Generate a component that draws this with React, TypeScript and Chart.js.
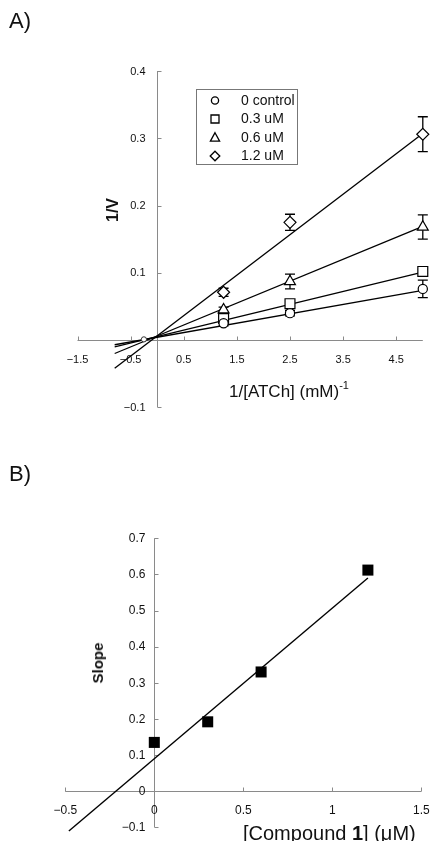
import React, { useEffect, useRef } from 'react';
import { Chart, registerables } from 'chart.js';

Chart.register(...registerables);

const FONT_FAMILY = '"Liberation Sans", Arial, Helvetica, sans-serif';
const AXIS_COLOR = '#8a8a8a';
const INK = '#111111';

// ---------- Panel A: Lineweaver-Burk data ----------
const invATCh = [1.25, 2.5, 5];
const seriesNames = ['0 control', '0.3 uM', '0.6 uM', '1.2 uM'];
const controlV = [0.025, 0.040, 0.076];
const inh03V = [0.032, 0.054, 0.102];
const inh06V = [0.045, 0.087, 0.168];
const inh12V = [0.071, 0.175, 0.306];
const controlErr = [0.004, 0.004, 0.013];
const inh03Err = [0.004, 0.004, 0.003];
const inh06Err = [0.004, 0.011, 0.018];
const inh12Err = [0.006, 0.012, 0.026];
const fitXA = [-0.8, 5];
const fitControl = [-0.007, 0.074];
const fitInh03 = [-0.010, 0.101];
const fitInh06 = [-0.020, 0.169];
const fitInh12 = [-0.042, 0.307];
const crossX = [-0.25];
const crossY = [0.001];
const xTickValuesA = [-1.5, -0.5, 0.5, 1.5, 2.5, 3.5, 4.5];
const xTickLabelsA = ['\u22121.5', '\u22120.5', '0.5', '1.5', '2.5', '3.5', '4.5'];
const yTickValuesA = [-0.1, 0.1, 0.2, 0.3, 0.4];
const yTickLabelsA = ['\u22120.1', '0.1', '0.2', '0.3', '0.4'];

// ---------- Panel B: slope replot data ----------
const compoundConc = [0, 0.3, 0.6, 1.2];
const slopeValues = [0.135, 0.192, 0.330, 0.612];
const fitXB = [-0.48, 1.2];
const fitYB = [-0.11, 0.59];
const xTickValuesB = [-0.5, 0, 0.5, 1, 1.5];
const xTickLabelsB = ['\u22120.5', '0', '0.5', '1', '1.5'];
const yTickValuesB = [-0.1, 0, 0.1, 0.2, 0.3, 0.4, 0.5, 0.6, 0.7];
const yTickLabelsB = ['\u22120.1', '0', '0.1', '0.2', '0.3', '0.4', '0.5', '0.6', '0.7'];

const seriesValues = [controlV, inh03V, inh06V, inh12V];
const seriesErrors = [controlErr, inh03Err, inh06Err, inh12Err];
const seriesFits = [fitControl, fitInh03, fitInh06, fitInh12];
const seriesStyles = ['circle', 'rect', 'triangle', 'rectRot'];
const seriesRadius = [4.6, 7, 6.3, 6];

const toPts = (xs: number[], ys: number[]) => xs.map((x, i) => ({ x, y: ys[i] }));

type AxisCfg = {
  xTicks: number[];
  xLabels: string[];
  yTicks: number[];
  yLabels: string[];
  size: number;
  xLabelOffset: number;
  yLabelGap: number;
};

// Cross-style axes through the origin, drawn from the chart's own scales.
function crossAxes(cfg: AxisCfg) {
  return {
    id: 'crossAxes',
    beforeDatasetsDraw(chart: any) {
      const { ctx, chartArea } = chart;
      const xs = chart.scales.x;
      const ys = chart.scales.y;
      const x0 = Math.round(xs.getPixelForValue(0)) + 0.5;
      const y0 = Math.round(ys.getPixelForValue(0)) + 0.5;
      ctx.save();
      ctx.strokeStyle = AXIS_COLOR;
      ctx.lineWidth = 1;
      ctx.beginPath();
      ctx.moveTo(chartArea.left, y0);
      ctx.lineTo(chartArea.right, y0);
      ctx.moveTo(x0, chartArea.top);
      ctx.lineTo(x0, chartArea.bottom);
      cfg.xTicks.forEach((v) => {
        const px = Math.round(xs.getPixelForValue(v)) + 0.5;
        ctx.moveTo(px, y0);
        ctx.lineTo(px, y0 - 4);
      });
      cfg.yTicks.forEach((v) => {
        const py = Math.round(ys.getPixelForValue(v)) + 0.5;
        ctx.moveTo(x0, py);
        ctx.lineTo(x0 + 4, py);
      });
      ctx.stroke();
      ctx.fillStyle = INK;
      ctx.font = `${cfg.size}px ${FONT_FAMILY}`;
      ctx.textBaseline = 'middle';
      ctx.textAlign = 'center';
      cfg.xTicks.forEach((v, i) => {
        ctx.fillText(cfg.xLabels[i], xs.getPixelForValue(v), y0 + cfg.xLabelOffset);
      });
      ctx.textAlign = 'right';
      cfg.yTicks.forEach((v, i) => {
        ctx.fillText(cfg.yLabels[i], x0 - cfg.yLabelGap, ys.getPixelForValue(v) + 0.5);
      });
      ctx.restore();
    },
  };
}

const errorBars = {
  id: 'errorBars',
  beforeDatasetsDraw(chart: any) {
    const { ctx } = chart;
    const xs = chart.scales.x;
    const ys = chart.scales.y;
    ctx.save();
    ctx.strokeStyle = '#000';
    ctx.lineWidth = 1.3;
    seriesValues.forEach((vals, s) => {
      invATCh.forEach((xv, i) => {
        const e = seriesErrors[s][i];
        if (!e) return;
        const px = xs.getPixelForValue(xv);
        const top = ys.getPixelForValue(vals[i] + e);
        const bot = ys.getPixelForValue(vals[i] - e);
        ctx.beginPath();
        ctx.moveTo(px, top);
        ctx.lineTo(px, bot);
        ctx.moveTo(px - 5, top);
        ctx.lineTo(px + 5, top);
        ctx.moveTo(px - 5, bot);
        ctx.lineTo(px + 5, bot);
        ctx.stroke();
      });
    });
    ctx.restore();
  },
};

function drawSymbol(ctx: CanvasRenderingContext2D, style: string, x: number, y: number) {
  ctx.beginPath();
  if (style === 'circle') {
    ctx.arc(x, y, 3.6, 0, Math.PI * 2);
  } else if (style === 'rect') {
    ctx.rect(x - 4, y - 4, 8, 8);
  } else if (style === 'triangle') {
    ctx.moveTo(x, y - 4.8);
    ctx.lineTo(x + 4.6, y + 3.6);
    ctx.lineTo(x - 4.6, y + 3.6);
    ctx.closePath();
  } else {
    ctx.moveTo(x, y - 4.8);
    ctx.lineTo(x + 4.8, y);
    ctx.lineTo(x, y + 4.8);
    ctx.lineTo(x - 4.8, y);
    ctx.closePath();
  }
  ctx.fillStyle = '#fff';
  ctx.fill();
  ctx.stroke();
}

const boxLegend = {
  id: 'boxLegend',
  afterDraw(chart: any) {
    const ctx = chart.ctx as CanvasRenderingContext2D;
    ctx.save();
    ctx.strokeStyle = '#777';
    ctx.lineWidth = 1;
    ctx.strokeRect(196.5, 89.5, 101, 75);
    ctx.strokeStyle = '#000';
    ctx.lineWidth = 1.3;
    seriesNames.forEach((name, i) => {
      const cy = 100.5 + i * 18.5;
      drawSymbol(ctx, seriesStyles[i], 215, cy);
      ctx.fillStyle = INK;
      ctx.font = `14px ${FONT_FAMILY}`;
      ctx.textBaseline = 'middle';
      ctx.textAlign = 'left';
      ctx.fillText(name, 241, cy + 0.5);
    });
    ctx.restore();
  },
};

const hiddenScale = (min: number, max: number) => ({ type: 'linear', min, max, display: false });

function PanelA() {
  const ref = useRef<HTMLCanvasElement>(null);
  useEffect(() => {
    const fitDatasets = seriesFits.map((fy) => ({
      data: toPts(fitXA, fy),
      showLine: true,
      borderColor: '#000',
      borderWidth: 1.3,
      pointRadius: 0,
      order: 3,
      clip: false,
    }));
    const pointDatasets = seriesValues.map((vals, s) => ({
      data: toPts(invATCh, vals),
      showLine: false,
      pointStyle: seriesStyles[s],
      pointRadius: seriesRadius[s],
      pointBackgroundColor: '#fff',
      pointBorderColor: '#000',
      pointBorderWidth: 1.2,
      order: 1,
      clip: false,
    }));
    const crossDataset = {
      data: toPts(crossX, crossY),
      showLine: false,
      pointStyle: 'circle',
      pointRadius: 2.6,
      pointBackgroundColor: '#fff',
      pointBorderColor: '#333',
      pointBorderWidth: 1,
      order: 2,
      clip: false,
    };
    const chart = new Chart(ref.current as HTMLCanvasElement, {
      type: 'scatter',
      data: { datasets: [...fitDatasets, crossDataset, ...pointDatasets] as any },
      options: {
        animation: false,
        responsive: false,
        devicePixelRatio: 1,
        events: [],
        layout: { padding: { left: 77.5, right: 5.8, top: 71, bottom: 12.7 } },
        plugins: { legend: { display: false }, tooltip: { enabled: false }, title: { display: false } },
        scales: {
          x: hiddenScale(-1.5, 5) as any,
          y: hiddenScale(-0.1, 0.4) as any,
        },
      },
      plugins: [
        crossAxes({
          xTicks: xTickValuesA,
          xLabels: xTickLabelsA,
          yTicks: yTickValuesA,
          yLabels: yTickLabelsA,
          size: 11,
          xLabelOffset: 19,
          yLabelGap: 12,
        }),
        errorBars,
        boxLegend,
      ],
    });
    return () => chart.destroy();
  }, []);
  return <canvas ref={ref} width={431} height={420} style={{ position: 'absolute', left: 0, top: 0, width: 431, height: 420 }} />;
}

function PanelB() {
  const ref = useRef<HTMLCanvasElement>(null);
  useEffect(() => {
    const chart = new Chart(ref.current as HTMLCanvasElement, {
      type: 'scatter',
      data: {
        datasets: [
          {
            data: toPts(fitXB, fitYB),
            showLine: true,
            borderColor: '#000',
            borderWidth: 1.4,
            pointRadius: 0,
            order: 2,
            clip: false,
          },
          {
            data: toPts(compoundConc, slopeValues),
            showLine: false,
            pointStyle: 'rect',
            pointRadius: 7.8,
            pointBackgroundColor: '#000',
            pointBorderColor: '#000',
            pointBorderWidth: 0,
            order: 1,
            clip: false,
          },
        ] as any,
      },
      options: {
        animation: false,
        responsive: false,
        devicePixelRatio: 1,
        events: [],
        layout: { padding: { left: 65.3, right: 9.7, top: 118.3, bottom: 13.7 } },
        plugins: { legend: { display: false }, tooltip: { enabled: false }, title: { display: false } },
        scales: {
          x: hiddenScale(-0.5, 1.5) as any,
          y: hiddenScale(-0.1, 0.7) as any,
        },
      },
      plugins: [
        crossAxes({
          xTicks: xTickValuesB,
          xLabels: xTickLabelsB,
          yTicks: yTickValuesB,
          yLabels: yTickLabelsB,
          size: 12,
          xLabelOffset: 19.5,
          yLabelGap: 9,
        }),
      ],
    });
    return () => chart.destroy();
  }, []);
  return <canvas ref={ref} width={431} height={421} style={{ position: 'absolute', left: 0, top: 420, width: 431, height: 421 }} />;
}

const textBase: React.CSSProperties = {
  position: 'absolute',
  fontFamily: FONT_FAMILY,
  color: INK,
  whiteSpace: 'nowrap',
  margin: 0,
};

export default function App() {
  return (
    <div style={{ position: 'absolute', left: 0, top: 0, width: 431, height: 841, background: '#fff', overflow: 'hidden' }}>
      <PanelA />
      <PanelB />
      <div style={{ ...textBase, left: 9, top: 8, fontSize: 22, lineHeight: '26px' }}>A)</div>
      <div style={{ ...textBase, left: 9, top: 461, fontSize: 22, lineHeight: '26px' }}>B)</div>
      <div
        style={{
          ...textBase,
          left: 113,
          top: 210,
          fontSize: 16,
          fontWeight: 'bold',
          lineHeight: '18px',
          transform: 'translate(-50%, -50%) rotate(-90deg)',
        }}
      >
        1/V
      </div>
      <div style={{ ...textBase, left: 229, top: 382, fontSize: 17, lineHeight: '19px' }}>
        1/[ATCh] (mM)
        <span style={{ fontSize: 11, position: 'relative', top: -8 }}>-1</span>
      </div>
      <div
        style={{
          ...textBase,
          left: 97.5,
          top: 663,
          fontSize: 15,
          fontWeight: 'bold',
          lineHeight: '18px',
          transform: 'translate(-50%, -50%) rotate(-90deg)',
        }}
      >
        Slope
      </div>
      <div style={{ ...textBase, left: 243, top: 822, fontSize: 20, lineHeight: '22px' }}>
        [Compound <b>1</b>] (μM)
      </div>
    </div>
  );
}
